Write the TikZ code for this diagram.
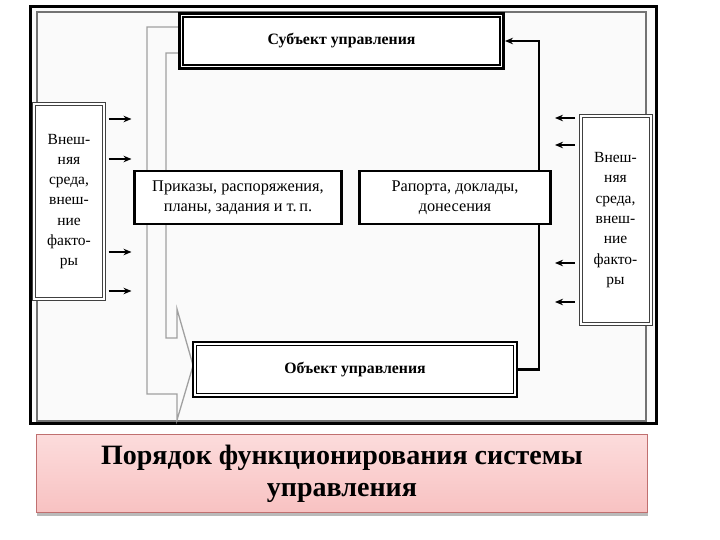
\documentclass[tikz,border=0pt]{standalone}
\usepackage{fontspec}
\setmainfont{Liberation Serif}
\usetikzlibrary{calc,arrows.meta,shadows}
\pgfdeclarelayer{bg}
\pgfsetlayers{bg,main}
\definecolor{capborder}{HTML}{C07070}
\definecolor{captop}{HTML}{FCDCDC}
\definecolor{capbot}{HTML}{F8C2C2}
\definecolor{garrowc}{HTML}{A0A0A0}
\tikzset{
  lbl/.style={font=\fontsize{15.5}{20.3}\selectfont, align=center},
  midlbl/.style={font=\fontsize{16.3}{20}\selectfont, align=center},
  subjbox/.style={draw, line width=3pt, fill=white, inner sep=0pt,
    minimum width=324pt, minimum height=55pt,
    font=\bfseries\fontsize{15.8}{18}\selectfont},
  objbox/.style={draw, line width=1.8pt, fill=white, inner sep=0pt,
    minimum width=324pt, minimum height=55pt,
    font=\bfseries\fontsize{15.8}{18}\selectfont},
  midbox/.style={draw, line width=2.5pt, fill=white, inner sep=0pt,
    minimum height=53pt, midlbl},
  extbox/.style={draw=black!75, double=white, double distance=2pt,
    line width=1pt, fill=white, inner sep=0pt, minimum width=70pt, lbl},
  garrow/.style={draw=garrowc, line width=1.3pt, line join=miter},
  bconn/.style={line width=2.4pt, -{Stealth[length=8pt,width=6.5pt]}},
  sarrow/.style={line width=1.8pt, -{Stealth[length=8pt,width=6.5pt]}},
  capbox/.style={draw=capborder, line width=0.8pt, top color=captop,
    bottom color=capbot, minimum width=611pt, minimum height=78pt,
    inner sep=0pt, align=center,
    font=\bfseries\fontsize{28}{32}\selectfont,
    drop shadow={shadow xshift=0pt, shadow yshift=-3pt, fill=black!45, opacity=0.6}}
}
\begin{document}
\begin{tikzpicture}[x=1pt,y=-1pt]
\useasboundingbox (0,0) rectangle (720,540);

% nodes
\node[subjbox] (sub) at (341.5,41) {Субъект управления};
\node[objbox] (obj) at (355,369.5) {Объект управления};
\node[midbox, minimum width=207pt] (prik) at (238,197.5) {Приказы, распоряжения,\\планы, задания и т.\,п.};
\node[midbox, minimum width=191pt] (rap) at (455,197.5) {Рапорта, доклады,\\донесения};
\node[extbox, minimum height=194pt] (extL) at (69,201.5) {Внеш-\\няя\\среда,\\внеш-\\ние\\факто-\\ры};
\node[extbox, minimum height=207pt] (extR) at (615.5,220) {Внеш-\\няя\\среда,\\внеш-\\ние\\факто-\\ры};

\draw[line width=1.2pt] ($(sub.north west)+(5,5)$) rectangle ($(sub.south east)+(-5,-5)$);
\draw[line width=1.3pt] ($(obj.north west)+(4.5,4.5)$) rectangle ($(obj.south east)+(-4.5,-4.5)$);

\node[capbox] (cap) at (342,473.5) {Порядок функционирования системы\\управления};

\begin{pgfonlayer}{bg}
  \fill[white] (0,0) rectangle (720,540);
  \fill[black!2] (30,7) rectangle (656,423);
  \draw[black!55, line width=1.1pt] (37,12) rectangle (646,421);
  \draw[line width=3pt] (30,7) rectangle (656,423);
  % grey block arrow from subject to object
  \draw[garrow] ($(sub.west)+(0,-14)$) -- (147,27) -- (147,394) -- (177,394)
    -- (177,420) -- ($(obj.west)+(1,-4)$) -- (177,309) -- (177,338)
    -- (166,338) -- (166,53) -- ($(sub.west)+(0,12)$);
  % feedback from object to subject
  \draw[bconn] (obj.east) -| ($(sub.east)+(34,0)$) -- (sub.east);
\end{pgfonlayer}

% external influences
\foreach \yy in {119,159,252,291}
  \draw[sarrow] ($(extL.east |- 0,\yy)+(4,0)$) -- ++(23,0);
\foreach \yy in {118,145,263,302}
  \draw[sarrow] ($(extR.west |- 0,\yy)+(-5,0)$) -- ++(-20,0);
\end{tikzpicture}
\end{document}
